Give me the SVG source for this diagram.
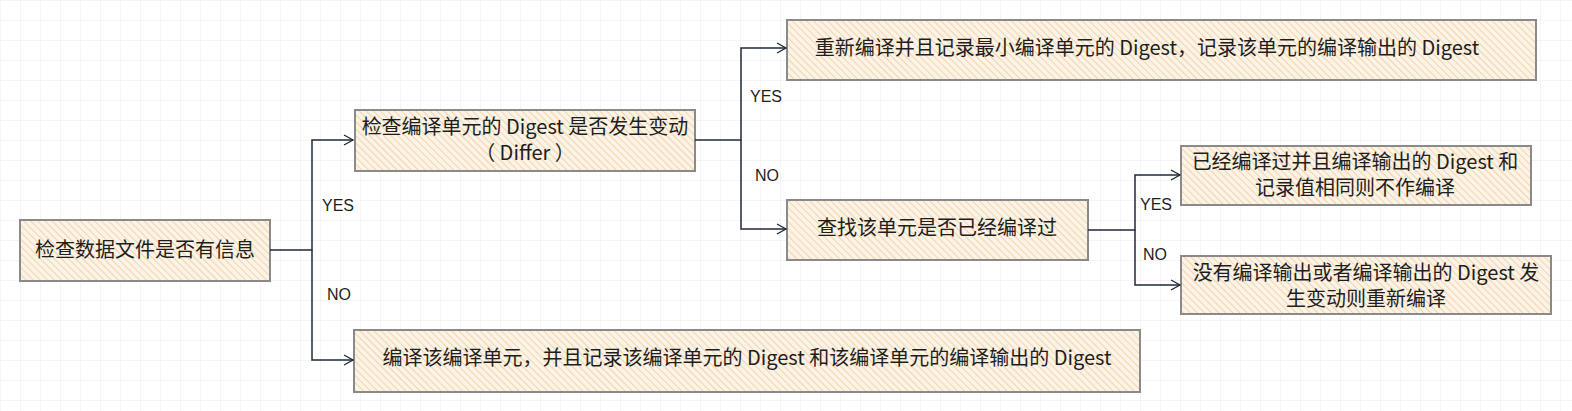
<svg xmlns="http://www.w3.org/2000/svg" width="1572" height="411" viewBox="0 0 1572 411">
<defs>
<pattern id="grid" width="20" height="20" patternUnits="userSpaceOnUse"><path d="M20 0H0V20" fill="none" stroke="#ececec" stroke-width="1"/></pattern>
<pattern id="hatch" width="5" height="5" patternUnits="userSpaceOnUse" patternTransform="rotate(-45)"><rect width="5" height="5" fill="#fbf3e6"/><line x1="0" y1="0" x2="0" y2="5" stroke="#efc48e" stroke-width="1.3"/></pattern>
<marker id="arr" markerWidth="12" markerHeight="12" refX="10" refY="6" orient="auto" markerUnits="userSpaceOnUse"><path d="M1 1L10 6L1 11" fill="none" stroke="#1e2a38" stroke-width="1.3"/></marker>
</defs>
<style>
.box{fill:url(#hatch);stroke:#8a8a8a;stroke-width:2}
.t{font-family:"Noto Sans CJK SC","Liberation Sans",sans-serif;font-size:20px;fill:#1e1e1e;text-anchor:middle}
.l{font-family:"Liberation Sans",sans-serif;font-size:16px;fill:#1e1e1e}
.c{fill:none;stroke:#1e2a38;stroke-width:1.5}
</style>
<rect width="1572" height="411" fill="#fff"/>
<rect width="1572" height="411" fill="url(#grid)"/>
<g id="n1"><rect class="box" x="20" y="220" width="250" height="61"/><text class="t" x="145" y="257">检查数据文件是否有信息</text></g>
<g id="n2"><rect class="box" x="355" y="110" width="340" height="61"/><text class="t" x="525" y="134">检查编译单元的 Digest 是否发生变动</text><text class="t" x="525" y="160">（ Differ ）</text></g>
<g id="n3"><rect class="box" x="354" y="330" width="786" height="62"/><text class="t" x="747" y="365">编译该编译单元，并且记录该编译单元的 Digest 和该编译单元的编译输出的 Digest</text></g>
<g id="n4"><rect class="box" x="787" y="20" width="749" height="60"/><text class="t" x="1147" y="55">重新编译并且记录最小编译单元的 Digest，记录该单元的编译输出的 Digest</text></g>
<g id="n5"><rect class="box" x="787" y="200" width="301" height="60"/><text class="t" x="937" y="235">查找该单元是否已经编译过</text></g>
<g id="n6"><rect class="box" x="1181" y="146" width="350" height="59"/><text class="t" x="1355" y="169">已经编译过并且编译输出的 Digest 和</text><text class="t" x="1355" y="195">记录值相同则不作编译</text></g>
<g id="n7"><rect class="box" x="1181" y="256" width="370" height="58"/><text class="t" x="1366" y="280">没有编译输出或者编译输出的 Digest 发</text><text class="t" x="1366" y="306">生变动则重新编译</text></g>
<g id="connectors">
<path class="c" d="M270 250H312V140H353" marker-end="url(#arr)"/>
<path class="c" d="M312 250V360H353" marker-end="url(#arr)"/>
<path class="c" d="M695 140H741V48H786" marker-end="url(#arr)"/>
<path class="c" d="M741 140V229H786" marker-end="url(#arr)"/>
<path class="c" d="M1088 230H1135V175H1180" marker-end="url(#arr)"/>
<path class="c" d="M1135 230V285H1180" marker-end="url(#arr)"/>
<text class="l" x="322" y="211">YES</text>
<text class="l" x="327" y="300">NO</text>
<text class="l" x="750" y="102">YES</text>
<text class="l" x="755" y="181">NO</text>
<text class="l" x="1140" y="210">YES</text>
<text class="l" x="1143" y="260">NO</text>
</g>
</svg>
